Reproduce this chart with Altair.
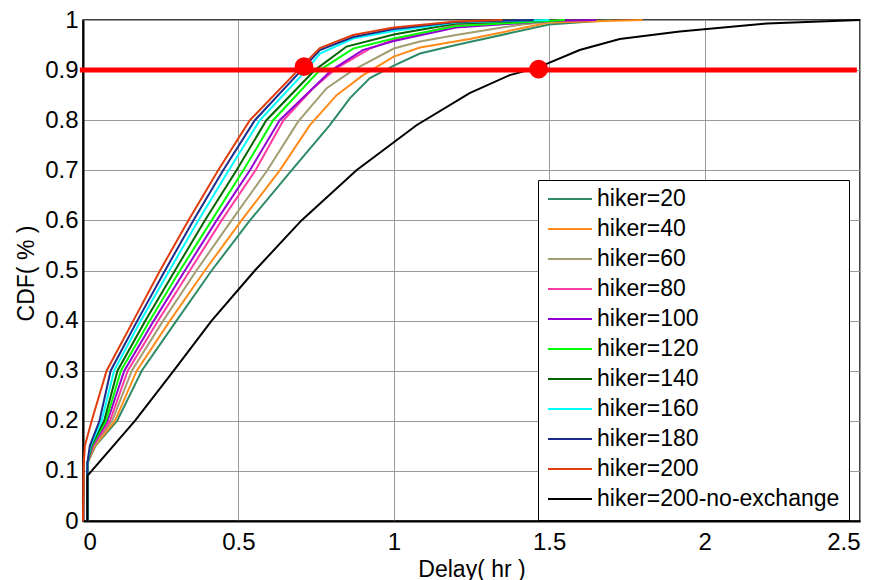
import altair as alt
import pandas as pd

series_names = ["hiker=20", "hiker=40", "hiker=60", "hiker=80", "hiker=100", "hiker=120",
                "hiker=140", "hiker=160", "hiker=180", "hiker=200", "hiker=200-no-exchange"]
series_colors = ["#2E8B66", "#FF8C1A", "#A39E72", "#FF3AA0", "#9400D3", "#00FF00",
                 "#006400", "#00FFFF", "#1C2C8C", "#E03C0C", "#000000"]

x_20 = [0.014, 0.014, 0.040, 0.110, 0.189, 0.301, 0.414, 0.537, 0.671, 0.794, 0.859, 0.923, 1.0, 1.084, 1.2, 1.5, 1.7]
y_20 = [0, 0.115, 0.15, 0.2, 0.3, 0.4, 0.5, 0.6, 0.7, 0.79, 0.844, 0.884, 0.909, 0.933, 0.95, 0.991, 1.0]

x_40 = [0.014, 0.014, 0.038, 0.103, 0.173, 0.280, 0.392, 0.510, 0.633, 0.730, 0.816, 0.901, 1.0, 1.084, 1.244, 1.5, 1.8]
y_40 = [0, 0.115, 0.15, 0.2, 0.3, 0.4, 0.5, 0.6, 0.7, 0.79, 0.85, 0.89, 0.927, 0.945, 0.962, 0.995, 1.0]

x_60 = [0.014, 0.014, 0.034, 0.094, 0.157, 0.258, 0.365, 0.478, 0.593, 0.692, 0.784, 0.869, 1.0, 1.084, 1.2, 1.4, 1.55]
y_60 = [0, 0.115, 0.15, 0.2, 0.3, 0.4, 0.5, 0.6, 0.7, 0.797, 0.864, 0.90, 0.943, 0.957, 0.97, 0.99, 1.0]

x_80 = [0.014, 0.014, 0.032, 0.087, 0.144, 0.242, 0.344, 0.446, 0.555, 0.645, 0.741, 0.816, 0.923, 1.0, 1.2, 1.45]
y_80 = [0, 0.115, 0.15, 0.2, 0.3, 0.4, 0.5, 0.6, 0.7, 0.8, 0.864, 0.904, 0.943, 0.96, 0.99, 1.0]

x_100 = [0.014, 0.014, 0.030, 0.079, 0.133, 0.228, 0.328, 0.430, 0.537, 0.633, 0.80, 0.90, 1.0, 1.2, 1.5, 1.65]
y_100 = [0, 0.115, 0.15, 0.2, 0.3, 0.4, 0.5, 0.6, 0.7, 0.8, 0.9, 0.94, 0.958, 0.985, 0.998, 1.0]

x_120 = [0.014, 0.014, 0.028, 0.074, 0.122, 0.215, 0.312, 0.414, 0.516, 0.612, 0.762, 0.869, 1.0, 1.2, 1.55]
y_120 = [0, 0.115, 0.15, 0.2, 0.3, 0.4, 0.5, 0.6, 0.7, 0.8, 0.9, 0.943, 0.963, 0.988, 1.0]

x_140 = [0.014, 0.014, 0.026, 0.068, 0.111, 0.201, 0.296, 0.392, 0.494, 0.590, 0.746, 0.848, 1.0, 1.2, 1.5]
y_140 = [0, 0.115, 0.15, 0.2, 0.3, 0.4, 0.5, 0.6, 0.7, 0.8, 0.9, 0.947, 0.971, 0.993, 1.0]

x_160 = [0.014, 0.014, 0.024, 0.060, 0.100, 0.186, 0.278, 0.371, 0.469, 0.569, 0.719, 0.762, 0.869, 1.0, 1.2, 1.5]
y_160 = [0, 0.115, 0.15, 0.2, 0.3, 0.4, 0.5, 0.6, 0.7, 0.8, 0.9, 0.933, 0.963, 0.978, 0.995, 1.0]

x_180 = [0.014, 0.014, 0.022, 0.053, 0.089, 0.175, 0.264, 0.355, 0.451, 0.553, 0.703, 0.762, 0.869, 1.0, 1.2, 1.45]
y_180 = [0, 0.115, 0.15, 0.2, 0.3, 0.4, 0.5, 0.6, 0.7, 0.8, 0.9, 0.94, 0.966, 0.982, 0.996, 1.0]

x_200 = [0.0, 0.002, 0.006, 0.028, 0.076, 0.162, 0.248, 0.339, 0.435, 0.537, 0.692, 0.762, 0.869, 1.0, 1.2, 1.35]
y_200 = [0, 0.11, 0.15, 0.2, 0.3, 0.4, 0.5, 0.6, 0.7, 0.8, 0.9, 0.944, 0.97, 0.985, 0.997, 1.0]

x_noex = [0.014, 0.014, 0.167, 0.292, 0.414, 0.553, 0.703, 0.88, 1.073, 1.244, 1.373, 1.463, 1.598, 1.727, 1.92, 2.2, 2.5]
y_noex = [0, 0.09, 0.2, 0.3, 0.4, 0.5, 0.6, 0.7, 0.79, 0.854, 0.89, 0.905, 0.94, 0.962, 0.977, 0.993, 1.0]

threshold_y = [0.9]
threshold_x = [-0.01]
threshold_x2 = [2.49]
marker_x = [0.711, 1.466]
marker_y = [0.907, 0.902]

x_ticks = [0, 0.5, 1, 1.5, 2, 2.5]
y_ticks = [0, 0.1, 0.2, 0.3, 0.4, 0.5, 0.6, 0.7, 0.8, 0.9, 1]

xs_all = [x_20, x_40, x_60, x_80, x_100, x_120, x_140, x_160, x_180, x_200, x_noex]
ys_all = [y_20, y_40, y_60, y_80, y_100, y_120, y_140, y_160, y_180, y_200, y_noex]

rows = []
for k, (name, xs, ys) in enumerate(zip(series_names, xs_all, ys_all)):
    for i, (a, b) in enumerate(zip(xs, ys)):
        rows.append({"series": name, "k": k, "x": a, "y": b, "i": i})
df = pd.DataFrame(rows)

FONT = "Liberation Sans"

x_scale = alt.Scale(domain=[0, 2.5], nice=False, zero=False)
y_scale = alt.Scale(domain=[0, 1], nice=False, zero=False)

lines = alt.Chart(df).mark_line(strokeWidth=2).encode(
    x=alt.X("x:Q", scale=x_scale,
            axis=alt.Axis(values=x_ticks, format="~g", title="Delay( hr )",
                          titleY=55, titleBaseline="alphabetic", labelPadding=9)),
    y=alt.Y("y:Q", scale=y_scale,
            axis=alt.Axis(values=y_ticks, format="~g", title="CDF( % )",
                          titleX=-50, titleY=253, titleAngle=-90, titleAlign="center",
                          titleBaseline="alphabetic", labelPadding=5)),
    color=alt.Color("series:N", sort=series_names,
                    scale=alt.Scale(domain=series_names, range=series_colors),
                    legend=alt.Legend(title=None, orient="none", legendX=455, legendY=160,
                                      fillColor="white", strokeColor="black", padding=9,
                                      symbolType="stroke", symbolSize=1936, symbolStrokeWidth=2,
                                      clipHeight=20, rowPadding=7, labelFontSize=23,
                                      labelFont=FONT, labelOffset=4, labelLimit=500,
                                      labelColor="black")),
    order=alt.Order("i:Q"),
)

thr_df = pd.DataFrame({"x": threshold_x, "x2": threshold_x2, "y": threshold_y})
thr = alt.Chart(thr_df).mark_rule(color="#FF0000", strokeWidth=5).encode(
    x="x:Q", x2="x2:Q", y="y:Q")

mk_df = pd.DataFrame({"x": marker_x, "y": marker_y})
markers = alt.Chart(mk_df).mark_circle(color="#FF0000", size=350, opacity=1).encode(
    x="x:Q", y="y:Q")

chart = alt.layer(lines, thr, markers).properties(
    width=777, height=501,
    padding={"left": 83, "top": 20, "right": 17, "bottom": 59},
    autosize=alt.AutoSizeParams(type="none"),
).configure(font=FONT).configure_axis(
    grid=True, gridColor="#9a9a9a", gridWidth=1,
    domainColor="black", domainWidth=2,
    ticks=False, tickSize=0,
    labelFont=FONT, labelFontSize=24, labelColor="black",
    titleFont=FONT, titleFontSize=23, titleColor="black", titleFontWeight="normal",
).configure_view(stroke="black", strokeWidth=1.5)

chart.save("out.html", embed_options={"renderer": "svg", "actions": False})
